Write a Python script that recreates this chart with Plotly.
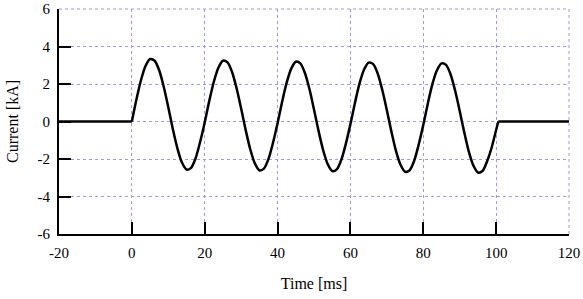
import plotly.graph_objects as go

# Time [ms] and current [kA]
pre_t = [-20, 0]
pre_i = [0, 0]

osc_t = [0, 1.25, 2.5, 3.75, 5, 6.25, 7.5, 8.75, 10, 11.25, 12.5, 13.75, 15, 16.25, 17.5, 18.75,
         20, 21.25, 22.5, 23.75, 25, 26.25, 27.5, 28.75, 30, 31.25, 32.5, 33.75, 35, 36.25, 37.5, 38.75,
         40, 41.25, 42.5, 43.75, 45, 46.25, 47.5, 48.75, 50, 51.25, 52.5, 53.75, 55, 56.25, 57.5, 58.75,
         60, 61.25, 62.5, 63.75, 65, 66.25, 67.5, 68.75, 70, 71.25, 72.5, 73.75, 75, 76.25, 77.5, 78.75,
         80, 81.25, 82.5, 83.75, 85, 86.25, 87.5, 88.75, 90, 91.25, 92.5, 93.75, 95, 96.25, 97.5, 98.75,
         100, 100.6]
osc_i = [0.0, 1.17, 2.20, 2.96, 3.33, 3.24, 2.73, 1.85, 0.76, -0.40, -1.43, -2.19, -2.56, -2.47, -1.96, -1.08,
         -0.05, 1.10, 2.12, 2.87, 3.24, 3.15, 2.64, 1.77, 0.69, -0.46, -1.48, -2.23, -2.60, -2.51, -2.00, -1.13,
         -0.09, 1.05, 2.07, 2.82, 3.19, 3.10, 2.59, 1.73, 0.64, -0.50, -1.52, -2.27, -2.64, -2.55, -2.04, -1.18,
         -0.14, 1.00, 2.03, 2.77, 3.14, 3.06, 2.55, 1.68, 0.60, -0.54, -1.57, -2.31, -2.68, -2.60, -2.09, -1.22,
         -0.18, 0.96, 1.99, 2.73, 3.10, 3.02, 2.51, 1.64, 0.56, -0.58, -1.61, -2.35, -2.72, -2.64, -2.13, -1.40,
         -0.45, 0.0]

post_t = [100.6, 120]
post_i = [0, 0]

x_ticks = [-20, 0, 20, 40, 60, 80, 100, 120]
y_ticks = [-6, -4, -2, 0, 2, 4, 6]

GRID = "#9a9af0"

fig = go.Figure()
fig.add_trace(go.Scatter(x=pre_t, y=pre_i, mode="lines",
                         line=dict(color="black", width=2.5)))
fig.add_trace(go.Scatter(x=osc_t, y=osc_i, mode="lines",
                         line=dict(color="black", width=2.5, shape="spline", smoothing=0.8)))
fig.add_trace(go.Scatter(x=post_t, y=post_i, mode="lines",
                         line=dict(color="black", width=2.5)))

# outer grid lines at the top and right edges of the frame
fig.add_shape(type="line", xref="paper", yref="paper", x0=0, x1=1, y0=1, y1=1,
              line=dict(color=GRID, width=1, dash="dot"), layer="below")
fig.add_shape(type="line", xref="paper", yref="paper", x0=1, x1=1, y0=0, y1=1,
              line=dict(color=GRID, width=1, dash="dot"), layer="below")

tick_font = dict(family="Liberation Serif", size=15, color="black")
title_font = dict(family="Liberation Serif", size=16, color="black")
axis_common = dict(
    showline=True, linecolor="black", linewidth=2,
    ticks="inside", ticklen=12, tickwidth=2, tickcolor="black",
    showgrid=True, gridcolor=GRID, gridwidth=1, griddash="dot",
    zeroline=False, tickfont=tick_font, ticklabeloverflow="allow",
    automargin=False,
)
fig.update_layout(
    width=583, height=299,
    margin=dict(l=59, r=14, t=9, b=65),
    paper_bgcolor="white", plot_bgcolor="white",
    showlegend=False,
    font=tick_font,
    xaxis=dict(range=[-20, 120], tickvals=x_ticks, ticktext=[str(v) for v in x_ticks],
               ticklabelstandoff=4,
               title=dict(text="Time [ms]", font=title_font, standoff=18),
               **axis_common),
    yaxis=dict(range=[-6, 6], tickvals=y_ticks, ticktext=[str(v) for v in y_ticks],
               ticklabelstandoff=4,
               title=dict(text="Current [kA]", font=title_font, standoff=15),
               **axis_common),
)
fig.write_html("out.html")
